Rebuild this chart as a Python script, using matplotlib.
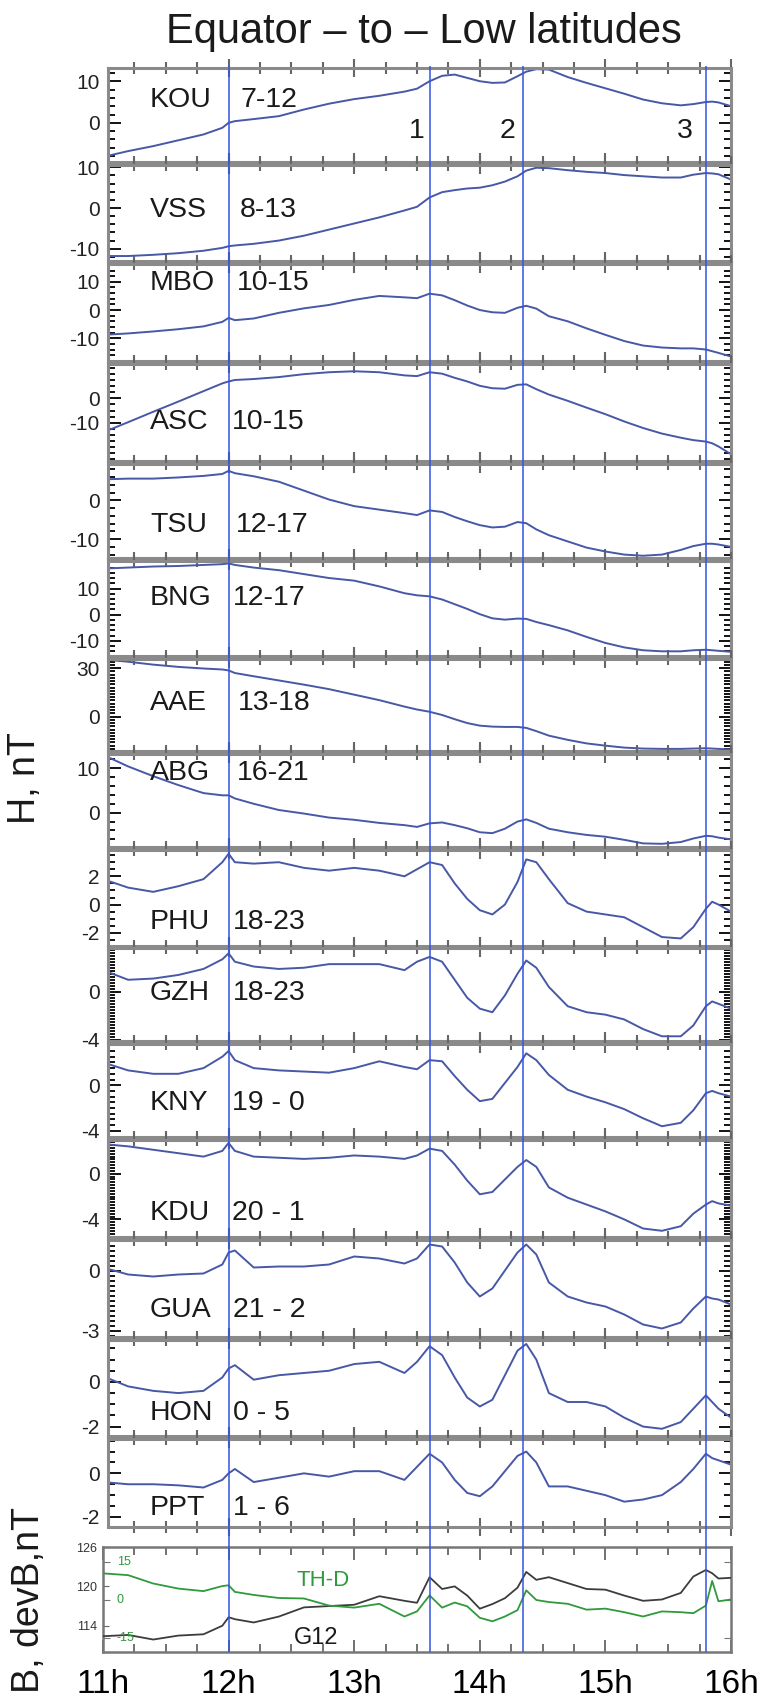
import matplotlib
matplotlib.use('Agg')
import matplotlib.pyplot as plt
from matplotlib.ticker import MultipleLocator

plt.rcParams['font.family'] = ['Liberation Sans', 'DejaVu Sans']
plt.rcParams['axes.unicode_minus'] = False

# ---- data ----
hours = [11.0, 11.2, 11.4, 11.6, 11.8, 11.95, 12.0, 12.05, 12.2, 12.4, 12.6, 12.8,
         13.0, 13.2, 13.4, 13.5, 13.6, 13.7, 13.8, 13.9, 14.0, 14.1, 14.2, 14.3,
         14.37, 14.45, 14.55, 14.7, 14.85, 15.0, 15.15, 15.3, 15.45, 15.6, 15.7,
         15.8, 15.85, 15.9, 16.0]

stations = ['KOU', 'VSS', 'MBO', 'ASC', 'TSU', 'BNG', 'AAE', 'ABG',
            'PHU', 'GZH', 'KNY', 'KDU', 'GUA', 'HON', 'PPT']
local_time = ['7-12', '8-13', '10-15', '10-15', '12-17', '12-17', '13-18', '16-21',
              '18-23', '18-23', '19 - 0', '20 - 1', '21 - 2', '0 - 5', '1 - 6']

kou = [-8.2, -6.8, -5.6, -4.2, -2.8, -1.2, 0.0, 0.4, 0.9, 1.6, 3.2, 4.6, 5.7, 6.5,
       7.5, 8.2, 10.0, 11.3, 11.6, 10.8, 10.0, 9.6, 9.7, 11.2, 12.3, 12.9, 12.8, 11.0,
       9.6, 8.3, 7.0, 5.6, 4.7, 4.2, 4.5, 5.0, 5.1, 4.9, 4.0]
vss = [-11.8, -11.8, -11.5, -11.1, -10.5, -9.8, -9.4, -9.2, -8.8, -8.0, -6.8, -5.3,
       -3.8, -2.3, -0.6, 0.3, 2.6, 3.9, 4.4, 4.8, 5.0, 5.6, 6.5, 7.8, 9.2, 9.9, 9.8,
       9.3, 8.9, 8.6, 8.1, 7.8, 7.5, 7.5, 8.2, 8.6, 8.5, 8.3, 7.0]
mbo = [-8.8, -8.3, -7.6, -6.8, -5.8, -4.2, -2.8, -3.6, -3.0, -1.0, 0.6, 1.8, 3.6,
       5.0, 4.5, 4.2, 5.8, 5.2, 3.5, 1.6, 0.0, -0.8, -1.0, 0.8, 1.5, 0.5, -2.2, -4.0,
       -6.5, -8.8, -11.0, -12.6, -13.3, -13.6, -13.6, -14.0, -14.6, -15.2, -16.5]
asc = [-14.0, -9.8, -5.5, -1.3, 3.0, 6.2, 7.0, 7.6, 8.0, 8.8, 10.0, 10.8, 11.2,
       10.8, 9.5, 9.2, 10.8, 10.2, 8.5, 7.0, 5.2, 4.2, 4.0, 5.6, 5.8, 3.8, 1.6, -1.0,
       -3.8, -6.5, -9.5, -12.2, -14.5, -16.2, -17.2, -17.8, -18.5, -19.8, -23.0]
tsu = [5.4, 5.6, 5.6, 5.9, 6.3, 6.8, 7.6, 7.0, 6.2, 4.8, 2.5, 0.2, -1.5, -2.4, -3.3,
       -3.8, -2.6, -3.0, -4.3, -5.4, -6.4, -7.0, -6.8, -5.6, -5.9, -7.5, -9.0, -10.6,
       -12.2, -13.2, -14.0, -14.3, -14.0, -12.8, -11.8, -11.2, -11.2, -11.4, -12.0]
bng = [17.6, 18.0, 18.4, 18.6, 19.0, 19.3, 19.6, 19.0, 18.0, 17.0, 15.5, 14.0, 13.0,
       10.8, 8.2, 7.4, 7.0, 5.8, 4.0, 2.2, 0.2, -1.4, -1.9, -1.5, -1.6, -2.8, -4.0,
       -6.0, -8.5, -10.8, -12.5, -13.6, -14.0, -14.0, -13.6, -13.4, -13.6, -13.8, -14.2]
aae = [35.4, 34.0, 32.2, 30.8, 29.8, 29.2, 28.6, 27.0, 25.0, 22.4, 19.8, 17.0, 13.6,
       10.2, 6.2, 4.4, 3.0, 1.0, -1.6, -4.0, -5.6, -6.2, -6.4, -6.4, -7.0, -9.0, -11.8,
       -14.4, -16.6, -18.0, -19.2, -19.8, -20.0, -20.0, -19.8, -19.6, -19.8, -20.0, -20.4]
abg = [13.0, 10.4, 8.2, 6.2, 4.4, 3.9, 3.9, 3.2, 2.0, 0.6, -0.2, -1.1, -1.6, -2.3,
       -2.8, -3.2, -2.4, -2.2, -2.8, -3.5, -4.4, -4.6, -3.6, -2.0, -1.5, -2.3, -3.6,
       -4.4, -5.0, -5.4, -6.1, -6.9, -7.0, -6.6, -5.8, -5.2, -5.3, -5.6, -6.0]
phu = [1.8, 1.2, 0.9, 1.3, 1.8, 3.0, 3.6, 3.0, 2.9, 3.0, 2.6, 2.4, 2.6, 2.4, 2.0,
       2.5, 3.0, 2.8, 1.5, 0.4, -0.4, -0.7, 0.0, 1.6, 3.2, 3.0, 1.8, 0.1, -0.5, -0.7,
       -0.9, -1.6, -2.3, -2.4, -1.6, -0.3, 0.2, 0.0, -0.5]
gzh = [1.8, 1.0, 1.1, 1.4, 1.9, 2.7, 3.2, 2.5, 2.1, 1.9, 2.0, 2.3, 2.3, 2.3, 1.8,
       2.5, 2.9, 2.5, 1.0, -0.5, -1.4, -1.7, -0.3, 1.5, 2.6, 2.0, 0.4, -1.2, -1.7,
       -1.9, -2.3, -3.1, -3.7, -3.7, -2.8, -1.2, -0.8, -1.0, -1.4]
kny = [2.0, 1.3, 1.0, 1.0, 1.5, 2.5, 3.0, 2.2, 1.5, 1.3, 1.2, 1.1, 1.5, 2.1, 1.6,
       1.4, 2.2, 2.1, 0.8, -0.4, -1.4, -1.2, 0.2, 1.6, 2.8, 2.2, 0.9, -0.4, -1.0, -1.5,
       -2.1, -2.9, -3.6, -3.3, -2.2, -0.7, -0.5, -0.7, -1.0]
kdu = [2.6, 2.4, 2.1, 1.8, 1.5, 2.0, 2.7, 2.0, 1.5, 1.4, 1.3, 1.4, 1.6, 1.5, 1.3,
       1.6, 2.2, 2.0, 0.8, -0.6, -1.8, -1.6, -0.5, 0.6, 1.2, 0.6, -1.2, -2.1, -2.7,
       -3.3, -4.0, -4.8, -5.0, -4.6, -3.5, -2.7, -2.4, -2.6, -2.8]
gua = [0.15, -0.2, -0.3, -0.2, -0.15, 0.3, 0.9, 1.0, 0.15, 0.2, 0.2, 0.3, 0.7, 0.6,
       0.35, 0.6, 1.3, 1.2, 0.4, -0.6, -1.3, -0.9, 0.0, 0.9, 1.3, 0.8, -0.6, -1.3,
       -1.6, -1.8, -2.2, -2.7, -2.9, -2.6, -1.9, -1.3, -1.4, -1.45, -1.7]
hon = [0.25, -0.2, -0.4, -0.5, -0.4, 0.2, 0.6, 0.75, 0.1, 0.3, 0.4, 0.5, 0.8, 0.9,
       0.4, 0.9, 1.6, 1.2, 0.2, -0.7, -1.1, -0.8, 0.3, 1.4, 1.7, 1.0, -0.5, -0.9, -0.9,
       -1.1, -1.6, -2.0, -2.1, -1.8, -1.2, -0.6, -0.9, -1.2, -1.6]
ppt = [-0.4, -0.5, -0.5, -0.55, -0.65, -0.3, 0.0, 0.2, -0.4, -0.2, 0.0, -0.15, 0.1,
       0.1, -0.3, 0.3, 0.9, 0.5, -0.3, -0.9, -1.05, -0.6, 0.1, 0.8, 1.0, 0.5, -0.6,
       -0.6, -0.8, -1.0, -1.3, -1.2, -1.0, -0.4, 0.2, 0.9, 0.7, 0.6, 0.4]
h_series = [kou, vss, mbo, asc, tsu, bng, aae, abg, phu, gzh, kny, kdu, gua, hon, ppt]

# bottom panel: GOES-12 field (left scale) and THEMIS-D deviation (inner scale)
g12 = [112.4, 112.6, 111.9, 112.5, 112.7, 114.0, 115.3, 115.0, 114.5, 115.4, 116.8,
       117.0, 117.2, 118.5, 117.8, 117.5, 121.4, 119.6, 120.0, 118.6, 116.6, 117.3,
       118.2, 119.8, 122.2, 121.0, 121.4, 120.5, 119.6, 119.5, 118.6, 117.8, 118.0,
       119.0, 121.5, 122.5, 122.0, 121.2, 121.3]
thd = [10.5, 9.8, 6.5, 4.5, 3.5, 5.5, 5.8, 3.2, 2.0, 0.8, 0.6, -2.2, -3.0, -1.5,
       -6.5, -4.5, 1.8, -3.0, -1.0, -2.5, -7.0, -8.4, -6.5, -4.0, 3.8, 0.0, -0.8, -1.5,
       -3.8, -3.4, -4.8, -6.5, -4.5, -4.8, -5.2, -2.2, 7.5, -0.5, 0.2]

event_times = [12.0, 13.6, 14.34, 15.8]
event_labels = ['1', '2', '3']
hour_ticks = [11, 12, 13, 14, 15, 16]
hour_labels = ['11h', '12h', '13h', '14h', '15h', '16h']

h_yticks = [[0, 10], [-10, 0, 10], [-10, 0, 10], [-10, 0], [-10, 0], [-10, 0, 10],
            [0, 30], [0, 10], [-2, 0, 2], [-4, 0], [-4, 0], [-4, 0], [-3, 0],
            [-2, 0], [-2, 0]]
g12_ticks = [114, 120, 126]
thd_ticks = [-15, 0, 15]

# ---- layout (pixels of the 759x1703 canvas) ----
W, H = 759, 1703
seps = [66, 163, 262, 362, 462, 559, 657, 752, 848, 947, 1042, 1138, 1238, 1338,
        1437, 1528]
ylims = [(-9.3, 13.3), (-12.9, 10.7), (-17.9, 16.5), (-25.6, 14.4), (-14.75, 9.5),
         (-15.6, 20.7), (-21, 36), (-7.6, 13.3), (-2.9, 3.9), (-4.05, 3.6),
         (-4.5, 3.66), (-5.5, 3.0), (-3.3, 1.55), (-2.4, 1.9), (-2.44, 1.6)]
minor_steps = [2, 2, 2, 2.5, 2, 2, 2, 2, 0.5, 0.25, 0.5, 0.25, 0.25, 0.5, 0.5]
label_y = [100, 210, 283, 422, 525, 598, 703, 773, 922, 993, 1103, 1213, 1310, 1413, 1508]
hour_x = [240, 240, 237, 232, 236, 233, 238, 237, 233, 233, 232, 232, 233, 233, 233]
x0, x1 = 103, 731          # 11h and 16h
h_left = 108
px_per_h = (x1 - x0) / 5.0

trace_col = '#4758a6'
vline_col = '#3454e0'
frame_col = '#8a8a8a'
green = '#2f9a3c'


def fx(px):
    return px / W


def fy(px):
    return 1 - px / H


fig = plt.figure(figsize=(W / 100, H / 100), dpi=100)

for i, (name, series) in enumerate(zip(stations, h_series)):
    top, bot = seps[i] + 1.5, seps[i + 1] - 1.5
    ax = fig.add_axes([fx(h_left), fy(bot), fx(x1) - fx(h_left), (bot - top) / H])
    ax.plot(hours, series, color=trace_col, lw=1.4)
    ax.set_xlim(11 + (h_left - x0) / px_per_h, 16)
    ax.set_ylim(*ylims[i])
    ax.set_xticks(hour_ticks[1:])
    ax.xaxis.set_minor_locator(MultipleLocator(0.25))
    ax.tick_params(axis='x', which='both', direction='inout', top=True, bottom=True,
                   labelbottom=False, color='#666666', width=1.5)
    ax.tick_params(axis='x', which='major', length=13)
    ax.tick_params(axis='x', which='minor', length=9)
    ax.set_yticks(h_yticks[i])
    ax.yaxis.set_minor_locator(MultipleLocator(minor_steps[i]))
    ax.tick_params(axis='y', which='both', direction='in', left=True, right=True,
                   color='black', width=1.3, labelsize=15, pad=6, labelcolor='#222222')
    ax.tick_params(axis='y', which='major', length=9)
    ax.tick_params(axis='y', which='minor', length=5)
    for sp in ax.spines.values():
        sp.set_color(frame_col)
        sp.set_linewidth(2.2)
    fig.text(fx(150), fy(label_y[i]), name, fontsize=20.5, va='center', ha='left',
             color='#1a1a1a')
    fig.text(fx(hour_x[i]), fy(label_y[i]), local_time[i], fontsize=20.5,
             va='center', ha='left', color='#1a1a1a')
    if i == 0:
        for t, lab, xoff in zip(event_times[1:], event_labels, [0.10, 0.12, 0.17]):
            ax.text(t - xoff, 0.32, lab, transform=ax.get_xaxis_transform(),
                    fontsize=20.5, ha='center', va='center', color='#1a1a1a')

# bottom panel
bt, bb = 1547, 1652
axb = fig.add_axes([fx(x0), fy(bb), fx(x1) - fx(x0), (bb - bt) / H])
axb.plot(hours, g12, color='#3c3c3c', lw=1.3, zorder=3)
axb.set_xlim(11, 16)
axb.set_ylim(110, 126)
axb.set_yticks(g12_ticks)
axb.set_xticks(hour_ticks)
axb.set_xticklabels(hour_labels)
axb.xaxis.set_minor_locator(MultipleLocator(0.25))
axb.tick_params(axis='x', which='both', direction='in', top=True, bottom=True,
                color='#666666', width=1.3, labelsize=24, pad=12)
axb.tick_params(axis='x', which='major', length=9)
axb.tick_params(axis='x', which='minor', length=6)
axb.tick_params(axis='y', direction='in', length=4, labelsize=9, pad=4,
                color='#666666', labelcolor='#333333')
for sp in axb.spines.values():
    sp.set_color('#777777')
    sp.set_linewidth(1.8)

axt = axb.twinx()
axt.plot(hours, thd, color=green, lw=1.3, zorder=2)
axt.set_ylim(-20.5, 20.9)
axt.set_yticks(thd_ticks)
axt.yaxis.set_ticks_position('both')
axt.tick_params(axis='y', direction='in', length=5, color='#777777',
                labelleft=False, labelright=False)
for v in thd_ticks:
    axt.text(0.022, v, str(v), transform=axt.get_yaxis_transform(), fontsize=9,
             color=green, ha='left', va='center')
for sp in axt.spines.values():
    sp.set_visible(False)
fig.text(fx(323), fy(1580), 'TH-D', fontsize=16, color=green, ha='center', va='center')
fig.text(fx(316), fy(1638), 'G12', fontsize=17, color='#1a1a1a', ha='center', va='center')

# event lines across all panels
ov = fig.add_axes([fx(x0), fy(bb), fx(x1) - fx(x0), (bb - seps[0]) / H])
ov.set_xlim(11, 16)
ov.set_ylim(0, 1)
ov.axis('off')
for t in event_times:
    ov.axvline(t, color=vline_col, lw=1.1)

fig.text(fx(424), fy(32), 'Equator – to – Low latitudes', fontsize=30,
         ha='center', va='center', color='#1a1a1a')
fig.text(fx(25), fy(778), 'H, nT', fontsize=27, rotation=90, ha='center',
         va='center', color='#1a1a1a')
fig.text(fx(29), fy(1600), 'B, devB,nT', fontsize=27, rotation=90, ha='center',
         va='center', color='#1a1a1a')

fig.savefig('out.png', dpi=100)
